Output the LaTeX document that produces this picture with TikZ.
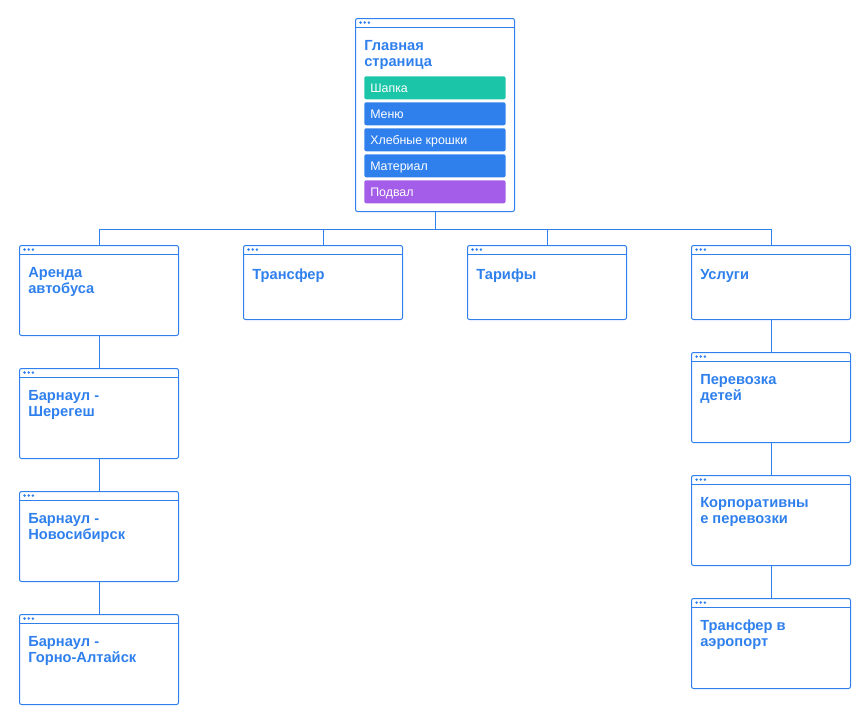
\documentclass[tikz,border=0pt]{standalone}
\usepackage{fontspec}
\setmainfont{Liberation Sans}
\usetikzlibrary{positioning}

\definecolor{sitemapblue}{HTML}{2F80ED}
\definecolor{sitemapteal}{HTML}{1BC5A7}
\definecolor{sitemappurple}{HTML}{A45DE8}

\tikzset{
  page/.style={draw=sitemapblue, line width=0.75pt, rounded corners=1.5pt,
    minimum width=119.25pt, inner sep=0pt, anchor=north west},
  pagetitle/.style={text=sitemapblue, font=\fontsize{11}{12}\selectfont\bfseries,
    align=left, inner sep=0pt, anchor=north west,
    execute at begin node=\rule{0pt}{9pt}},
  block/.style={rounded corners=1.5pt, minimum width=106pt, minimum height=17.25pt,
    inner sep=0pt, anchor=north west},
  blocktext/.style={text=white, font=\fontsize{9.3}{10}\selectfont, inner sep=0pt, anchor=base west},
  link/.style={draw=sitemapblue, line width=0.7pt},
}

% browser header of a page: line and three dots
\newcommand{\pagehead}[1]{%
  \draw[link] ([yshift=-6.75pt]#1.north west) -- ([yshift=-6.75pt]#1.north east);
  \foreach \d in {0,3.1,6.2}
    {\fill[sitemapblue] ([xshift={4.2pt+\d pt},yshift=-3.4pt]#1.north west) circle (1.05pt);}
}

\begin{document}
\begin{tikzpicture}[x=0.75pt,y=-0.75pt]
\useasboundingbox (0,0) rectangle (864,719);

% main page
\node[page, minimum height=144.75pt] (main) at (355,18) {};
\pagehead{main}
\node[pagetitle] (mainT) at ([xshift=6.75pt,yshift=-16.5pt]main.north west) {Главная\\страница};

\node[block, fill=sitemapteal] (shapka) at (364,76) {};
\node[block, fill=sitemapblue] (menu) at (364,102) {};
\node[block, fill=sitemapblue] (crumbs) at (364,128) {};
\node[block, fill=sitemapblue] (content) at (364,154) {};
\node[block, fill=sitemappurple] (footer) at (364,180) {};
\node[blocktext] at ([xshift=4.5pt,yshift=-12pt]shapka.north west) {Шапка};
\node[blocktext] at ([xshift=4.5pt,yshift=-12pt]menu.north west) {Меню};
\node[blocktext] at ([xshift=4.5pt,yshift=-12pt]crumbs.north west) {Хлебные крошки};
\node[blocktext] at ([xshift=4.5pt,yshift=-12pt]content.north west) {Материал};
\node[blocktext] at ([xshift=4.5pt,yshift=-12pt]footer.north west) {Подвал};

% first level
\node[page, minimum height=67.5pt] (rent) at (19,245) {};
\node[page, minimum height=55.5pt] (transfer) at (243,245) {};
\node[page, minimum height=55.5pt] (prices) at (467,245) {};
\node[page, minimum height=55.5pt] (services) at (691,245) {};

% bus rental routes
\node[page, minimum height=67.5pt] (route1) at (19,368) {};
\node[page, minimum height=67.5pt] (route2) at (19,491) {};
\node[page, minimum height=67.5pt] (route3) at (19,614) {};

% services
\node[page, minimum height=67.5pt] (kids) at (691,352) {};
\node[page, minimum height=67.5pt] (corp) at (691,475) {};
\node[page, minimum height=67.5pt] (airport) at (691,598) {};

\foreach \p in {rent,transfer,prices,services,route1,route2,route3,kids,corp,airport}
  {\pagehead{\p}}

\node[pagetitle] at ([xshift=6.75pt,yshift=-16.5pt]rent.north west) {Аренда\\автобуса};
\node[pagetitle] at ([xshift=6.75pt,yshift=-16.5pt]transfer.north west) {Трансфер};
\node[pagetitle] at ([xshift=6.75pt,yshift=-16.5pt]prices.north west) {Тарифы};
\node[pagetitle] at ([xshift=6.75pt,yshift=-16.5pt]services.north west) {Услуги};
\node[pagetitle] at ([xshift=6.75pt,yshift=-16.5pt]route1.north west) {Барнаул -\\Шерегеш};
\node[pagetitle] at ([xshift=6.75pt,yshift=-16.5pt]route2.north west) {Барнаул -\\Новосибирск};
\node[pagetitle] at ([xshift=6.75pt,yshift=-16.5pt]route3.north west) {Барнаул -\\Горно-Алтайск};
\node[pagetitle] at ([xshift=6.75pt,yshift=-16.5pt]kids.north west) {Перевозка\\детей};
\node[pagetitle] at ([xshift=6.75pt,yshift=-16.5pt]corp.north west) {Корпоративны\\е перевозки};
\node[pagetitle] at ([xshift=6.75pt,yshift=-16.5pt]airport.north west) {Трансфер в\\аэропорт};

% links
\foreach \p in {rent,transfer,prices,services}
  {\draw[link] (main.south) -- ++(0,17) -| (\p.north);}
\draw[link] (rent.south) -- (route1.north);
\draw[link] (route1.south) -- (route2.north);
\draw[link] (route2.south) -- (route3.north);
\draw[link] (services.south) -- (kids.north);
\draw[link] (kids.south) -- (corp.north);
\draw[link] (corp.south) -- (airport.north);
\end{tikzpicture}
\end{document}
